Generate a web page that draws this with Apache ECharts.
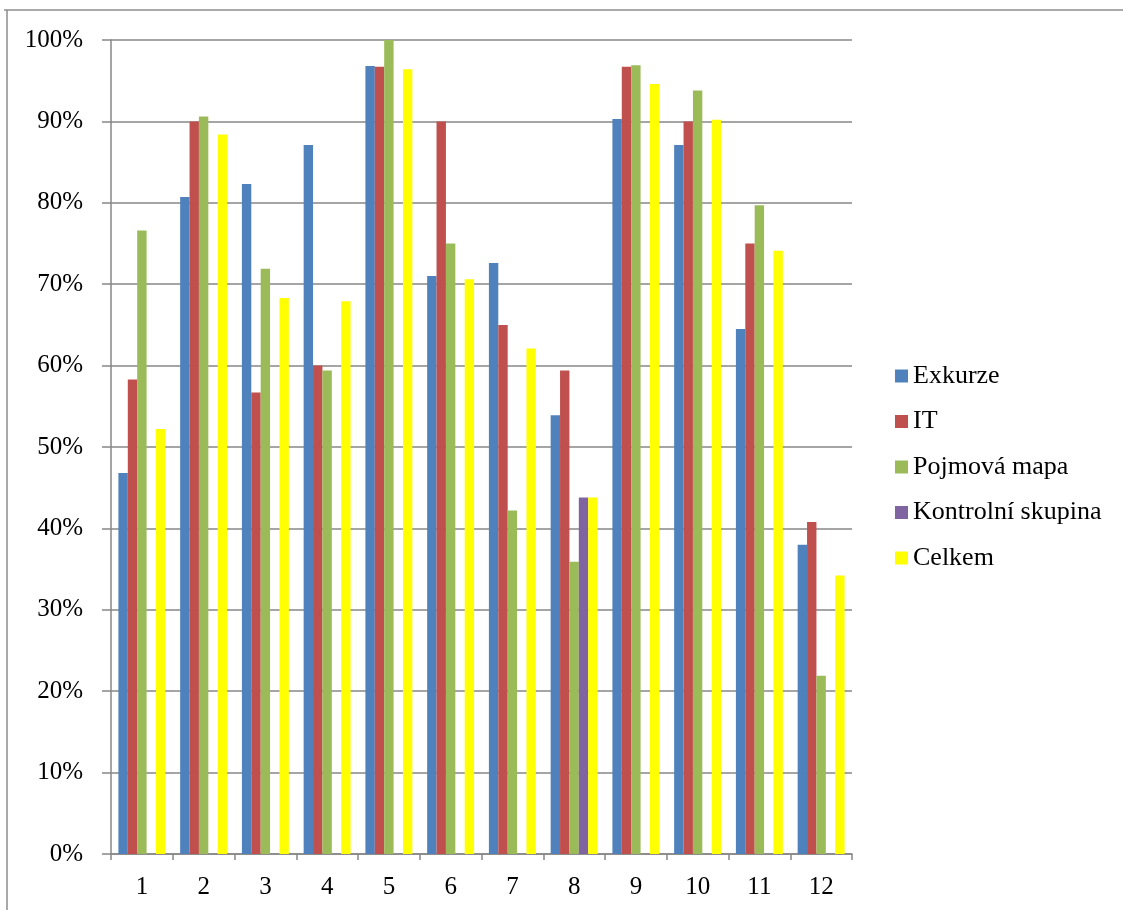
<!DOCTYPE html>
<html>
<head>
<meta charset="utf-8">
<title>Úspěšnost podle skupin</title>
<script src="https://cdn.jsdelivr.net/npm/echarts@6/dist/echarts.min.js"></script>
<style>
  html, body { margin: 0; padding: 0; background: #ffffff; }
  #chart { width: 1123px; height: 910px; }
</style>
</head>
<body>
<div id="chart"></div>
<script>
// Question numbers along the x axis
const categories = ['1', '2', '3', '4', '5', '6', '7', '8', '9', '10', '11', '12'];

// Share of correct answers per group, in percent
const exkurze = [46.8, 80.7, 82.3, 87.1, 96.8, 71.0, 72.6, 53.9, 90.3, 87.1, 64.5, 38.0];
const it = [58.3, 90.0, 56.7, 60.0, 96.7, 90.0, 65.0, 59.4, 96.7, 90.0, 75.0, 40.8];
const pojmovaMapa = [76.6, 90.6, 71.9, 59.4, 100.0, 75.0, 42.2, 35.9, 96.9, 93.8, 79.7, 21.9];
const kontrolniSkupina = [null, null, null, null, null, null, null, 43.8, null, null, null, null];
const celkem = [52.2, 88.4, 68.3, 67.9, 96.4, 70.6, 62.1, 43.8, 94.6, 90.2, 74.1, 34.2];

// Y axis tick settings (percent)
const yMin = 0;
const yMax = 100;
const yStep = 10;

const seriesNames = ['Exkurze', 'IT', 'Pojmová mapa', 'Kontrolní skupina', 'Celkem'];
const seriesData = [exkurze, it, pojmovaMapa, kontrolniSkupina, celkem];
const seriesColors = ['#4F81BD', '#C0504D', '#9BBB59', '#8064A2', '#FFFF00'];

const font = "'Liberation Serif', 'Times New Roman', serif";
const gridColor = '#878787';

const chart = echarts.init(document.getElementById('chart'), null, { renderer: 'canvas' });

chart.setOption({
  backgroundColor: '#ffffff',
  animation: false,
  textStyle: { fontFamily: font },
  graphic: [
    {
      type: 'line',
      shape: { x1: 4, y1: 10, x2: 1123, y2: 10 },
      style: { stroke: '#8c8c8c', lineWidth: 1.5 }
    },
    {
      type: 'line',
      shape: { x1: 7, y1: 10, x2: 7, y2: 910 },
      style: { stroke: '#8c8c8c', lineWidth: 1.5 }
    }
  ],
  grid: {
    left: 111,
    right: 271,
    top: 40,
    bottom: 56,
    containLabel: false
  },
  legend: {
    orient: 'vertical',
    left: 895,
    top: 362,
    padding: 0,
    itemWidth: 13,
    itemHeight: 13,
    itemGap: 17.5,
    icon: 'rect',
    textStyle: {
      fontFamily: font,
      fontSize: 26,
      color: '#000000',
      lineHeight: 28,
      padding: [0, 0, 0, 0]
    },
    data: seriesNames
  },
  xAxis: {
    type: 'category',
    data: categories,
    axisLine: { show: true, lineStyle: { color: gridColor, width: 1.5 } },
    axisTick: { show: true, alignWithLabel: false, length: 6, lineStyle: { color: gridColor, width: 1.5 } },
    axisLabel: {
      margin: 21,
      fontFamily: font,
      fontSize: 25,
      color: '#000000'
    },
    splitLine: { show: false }
  },
  yAxis: {
    type: 'value',
    min: yMin,
    max: yMax,
    interval: yStep,
    axisLine: { show: true, lineStyle: { color: gridColor, width: 1.5 } },
    axisTick: { show: true, length: 9, lineStyle: { color: gridColor, width: 1.5 } },
    axisLabel: {
      margin: 28,
      fontFamily: font,
      fontSize: 25,
      color: '#000000',
      formatter: '{value}%'
    },
    splitLine: { show: true, lineStyle: { color: gridColor, width: 1.5 } }
  },
  series: seriesNames.map((name, i) => ({
    name: name,
    type: 'bar',
    data: seriesData[i],
    barGap: '0%',
    barCategoryGap: '24%',
    itemStyle: { color: seriesColors[i] }
  }))
});
</script>
</body>
</html>
